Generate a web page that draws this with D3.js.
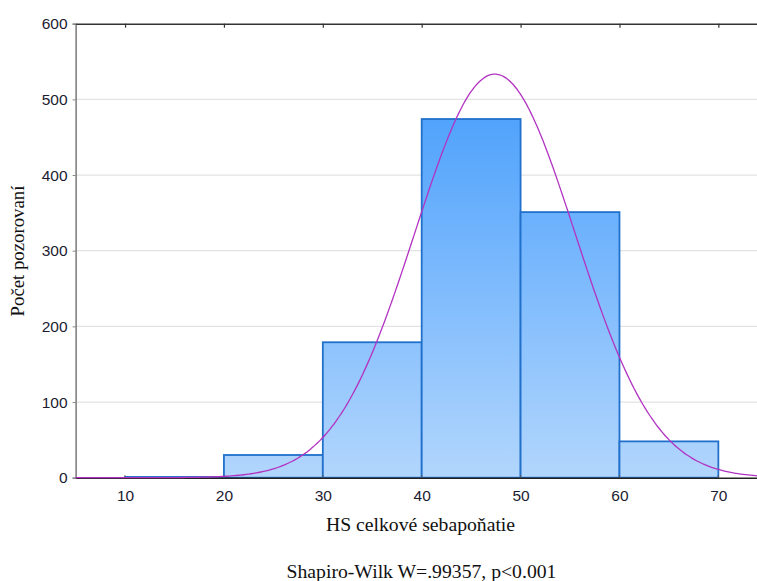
<!DOCTYPE html>
<html><head><meta charset="utf-8">
<script src="https://cdn.jsdelivr.net/npm/d3@7/dist/d3.min.js"></script>
<style>body{margin:0;background:#fff}svg{display:block}</style>
</head><body>
<svg id="c" width="757" height="581"></svg>
<script>
const binStarts = [10, 20, 30, 40, 50, 60];
const binWidth = 10;
const counts = [1, 30, 179, 474, 351, 48];
const yTicks = [0, 100, 200, 300, 400, 500, 600];
const xTicks = [10, 20, 30, 40, 50, 60, 70];
const fitMean = 47.4;
const fitSD = 8.1;
const xTitle = "HS celkové sebapoňatie";
const yTitle = "Počet pozorovaní";
const note = "Shapiro-Wilk W=.99357, p<0.001";

const svg = d3.select("#c");
const x = d3.scaleLinear().domain([5, 75]).range([75.6, 767.8]);
const y = d3.scaleLinear().domain([0, 600]).range([477.7, 23.7]);

const defs = svg.append("defs");
const g = defs.append("linearGradient").attr("id","bg").attr("gradientUnits","userSpaceOnUse")
  .attr("x1",0).attr("x2",0).attr("y1",y(474)).attr("y2",y(0));
g.append("stop").attr("offset","0").attr("stop-color","#51a3fc");
g.append("stop").attr("offset","1").attr("stop-color","#b2d6fd");

// gridlines
svg.append("g").selectAll("line").data(yTicks.filter(d=>d>0 && d<600)).join("line")
  .attr("x1", x(5)).attr("x2", 757).attr("y1", d=>y(d)).attr("y2", d=>y(d))
  .attr("stroke","#e3e3e3").attr("stroke-width",1.2);

// bars
svg.append("g").selectAll("rect").data(binStarts).join("rect")
  .attr("x", (d)=>x(d)).attr("width", d=>x(d+binWidth)-x(d))
  .attr("y", (d,i)=>y(counts[i])).attr("height", (d,i)=>y(0)-y(counts[i]))
  .attr("fill","url(#bg)").attr("stroke","#2170cc").attr("stroke-width",1.8);

// axes
const yAxis = d3.axisLeft(y).tickValues(yTicks).tickSize(3).tickPadding(5);
const ya = svg.append("g").attr("transform",`translate(${x(5)},0)`).call(yAxis);
ya.select(".domain").attr("stroke","#666").attr("stroke-width",1.3);
ya.selectAll(".tick line").attr("stroke","#888");
ya.selectAll("text").attr("font-family","Liberation Sans, Arial, sans-serif").attr("font-size","15.5px").attr("fill","#1c1c30");

const xAxis = d3.axisBottom(x).tickValues(xTicks).tickSize(0).tickPadding(12).tickSizeOuter(0);
const xa = svg.append("g").attr("transform",`translate(0,${y(0)})`).call(xAxis);
xa.select(".domain").attr("stroke","#222").attr("stroke-width",1.6);
xa.selectAll("text").attr("font-family","Liberation Sans, Arial, sans-serif").attr("font-size","15.5px").attr("fill","#1c1c30");
// small inner ticks on bottom
svg.append("g").selectAll("line").data(xTicks).join("line")
  .attr("x1",d=>x(d)).attr("x2",d=>x(d)).attr("y1",y(0)).attr("y2",y(0)-2.5)
  .attr("stroke","#555").attr("stroke-width",1);

// top border with inner ticks
const xTop = d3.axisTop(x).tickValues(xTicks).tickSize(-4).tickFormat("").tickSizeOuter(0);
const xt = svg.append("g").attr("transform",`translate(0,${y(600)})`).call(xTop);
xt.select(".domain").attr("stroke","#333").attr("stroke-width",1.6);
xt.selectAll(".tick line").attr("stroke","#333").attr("stroke-width",1.2);

// normal fit curve
const total = d3.sum(counts);
const dens = v => total*binWidth/(fitSD*Math.sqrt(2*Math.PI))*Math.exp(-((v-fitMean)**2)/(2*fitSD*fitSD));
const pts = d3.range(5, 75.01, 0.25);
svg.append("path").datum(pts)
  .attr("d", d3.line().x(d=>x(d)).y(d=>y(dens(d))).curve(d3.curveBasis))
  .attr("fill","none").attr("stroke","#b233c2").attr("stroke-width",1.3);

// titles
svg.append("text").attr("x",420.5).attr("y",531).attr("text-anchor","middle")
  .attr("font-family","Liberation Serif, Times New Roman, serif").attr("font-size","19.7px").attr("fill","#111").text(xTitle);
svg.append("text").attr("transform","translate(24,251) rotate(-90)").attr("text-anchor","middle")
  .attr("font-family","Liberation Serif, Times New Roman, serif").attr("font-size","18.8px").attr("fill","#111").text(yTitle);
svg.append("text").attr("x",421.5).attr("y",578).attr("text-anchor","middle")
  .attr("font-family","Liberation Serif, Times New Roman, serif").attr("font-size","19.7px").attr("fill","#111").text(note);
</script>
</body></html>
